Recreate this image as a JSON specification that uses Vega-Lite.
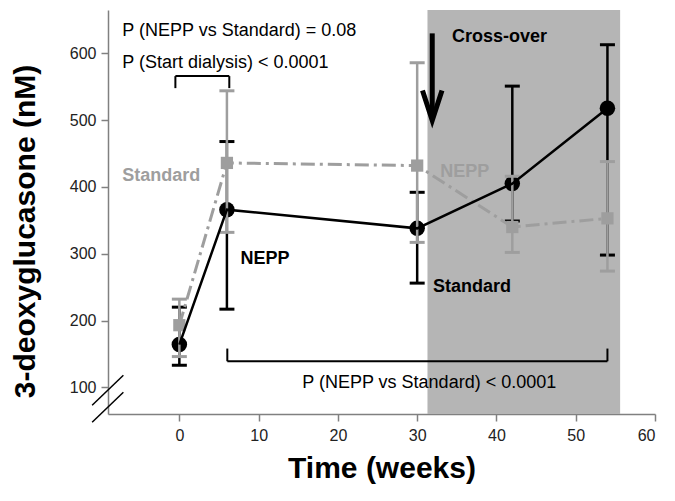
{
  "$schema": "https://vega.github.io/schema/vega-lite/v6.json",
  "width": 547,
  "height": 404,
  "autosize": {"type": "none"},
  "padding": {"left": 108, "top": 10, "right": 20, "bottom": 87},
  "background": "white",
  "config": {
    "view": {"stroke": null},
    "font": "Liberation Sans",
    "axis": {"grid": false, "domainColor": "#808080", "domainWidth": 1.5, "tickColor": "#808080", "tickWidth": 1.5, "tickSize": 7,
      "labelFontSize": 16, "labelColor": "#222222", "labelFont": "Liberation Sans",
      "titleFontWeight": "bold", "titleColor": "#000000", "titleFont": "Liberation Sans"},
    "axisX": {"labelPadding": 6, "titleFontSize": 30, "titlePadding": 10},
    "axisY": {"labelPadding": 5, "titleFontSize": 30, "titlePadding": 29}
  },
  "datasets": {
    "series": [
      {"s": "NEPP", "x": 0, "y": 164, "lo": 133, "hi": 220},
      {"s": "NEPP", "x": 6, "y": 366, "lo": 217, "hi": 468},
      {"s": "NEPP", "x": 30, "y": 338, "lo": 256, "hi": 392},
      {"s": "NEPP", "x": 42, "y": 405, "lo": 349, "hi": 551},
      {"s": "NEPP", "x": 54, "y": 518, "lo": 298, "hi": 613},
      {"s": "Standard", "x": 0, "y": 193, "lo": 146, "hi": 232},
      {"s": "Standard", "x": 6, "y": 436, "lo": 332, "hi": 544},
      {"s": "Standard", "x": 30, "y": 432, "lo": 317, "hi": 586},
      {"s": "Standard", "x": 42, "y": 340, "lo": 302, "hi": 416},
      {"s": "Standard", "x": 54, "y": 353, "lo": 274, "hi": 438}
    ],
    "shade": [{"x": 31.3, "x2": 55.6, "y": 60, "y2": 665}],
    "brackets": [
      {"x": -0.5, "x2": 6.3, "y": 566, "y2": 566},
      {"x": -0.5, "x2": -0.5, "y": 548, "y2": 566},
      {"x": 6.3, "x2": 6.3, "y": 548, "y2": 566},
      {"x": 6.05, "x2": 54, "y": 139, "y2": 139},
      {"x": 6.05, "x2": 6.05, "y": 139, "y2": 158},
      {"x": 54, "x2": 54, "y": 139, "y2": 158}
    ],
    "breaks": [
      {"x": -11, "x2": -7.06, "y": 73, "y2": 118},
      {"x": -11, "x2": -7.06, "y": 47.6, "y2": 92.5}
    ],
    "arrow": [{"x": 31.9, "x2": 31.9, "y": 630, "y2": 505}],
    "arrowhead": [{"x": 31.9, "y": 522}],
    "txtRegular": [
      {"t": "P (NEPP vs Standard) = 0.08", "x": -7.2, "y": 634},
      {"t": "P (Start dialysis) < 0.0001", "x": -7.2, "y": 585},
      {"t": "P (NEPP vs Standard) < 0.0001", "x": 15.5, "y": 106}
    ],
    "txtBold": [
      {"t": "NEPP", "x": 7.7, "y": 292},
      {"t": "Standard", "x": 32.0, "y": 250},
      {"t": "Cross-over", "x": 34.4, "y": 624}
    ],
    "txtGray": [
      {"t": "Standard", "x": -7.2, "y": 416},
      {"t": "NEPP", "x": 32.9, "y": 423}
    ]
  },
  "layer": [
    {
      "data": {"name": "shade"},
      "mark": {"type": "rect", "color": "#b5b5b5"},
      "encoding": {
        "x": {"field": "x", "type": "quantitative", "scale": {"domain": [-9, 60], "nice": false, "zero": false}, "axis": {"title": "Time (weeks)", "values": [0, 10, 20, 30, 40, 50, 60]}},
        "x2": {"field": "x2"},
        "y": {"field": "y", "type": "quantitative", "scale": {"domain": [60, 665], "nice": false, "zero": false}, "axis": {"title": "3-deoxyglucasone (nM)", "values": [100, 200, 300, 400, 500, 600], "titleY": 221}},
        "y2": {"field": "y2"}
      }
    },
    {
      "data": {"name": "brackets"},
      "mark": {"type": "rule", "color": "#000000", "strokeWidth": 2},
      "encoding": {
        "x": {"field": "x", "type": "quantitative", "scale": {"domain": [-9, 60], "nice": false, "zero": false}, "axis": {"title": "Time (weeks)", "values": [0, 10, 20, 30, 40, 50, 60]}},
        "x2": {"field": "x2"},
        "y": {"field": "y", "type": "quantitative", "scale": {"domain": [60, 665], "nice": false, "zero": false}, "axis": {"title": "3-deoxyglucasone (nM)", "values": [100, 200, 300, 400, 500, 600], "titleY": 221}},
        "y2": {"field": "y2"}
      }
    },
    {
      "data": {"name": "series"},
      "transform": [{"filter": "datum.s === 'NEPP'"}],
      "mark": {"type": "rule", "strokeWidth": 2.5, "color": "#000000"},
      "encoding": {
        "x": {"field": "x", "type": "quantitative", "scale": {"domain": [-9, 60], "nice": false, "zero": false}, "axis": {"title": "Time (weeks)", "values": [0, 10, 20, 30, 40, 50, 60]}},
        "y": {"field": "lo", "type": "quantitative", "scale": {"domain": [60, 665], "nice": false, "zero": false}, "axis": {"title": "3-deoxyglucasone (nM)", "values": [100, 200, 300, 400, 500, 600], "titleY": 221}},
        "y2": {"field": "hi"}
      }
    },
    {
      "data": {"name": "series"},
      "transform": [{"filter": "datum.s === 'NEPP'"}, {"fold": ["lo", "hi"], "as": ["k", "v"]}],
      "mark": {"type": "tick", "orient": "horizontal", "size": 15, "thickness": 3, "opacity": 1, "color": "#000000"},
      "encoding": {
        "x": {"field": "x", "type": "quantitative", "scale": {"domain": [-9, 60], "nice": false, "zero": false}, "axis": {"title": "Time (weeks)", "values": [0, 10, 20, 30, 40, 50, 60]}},
        "y": {"field": "v", "type": "quantitative", "scale": {"domain": [60, 665], "nice": false, "zero": false}, "axis": {"title": "3-deoxyglucasone (nM)", "values": [100, 200, 300, 400, 500, 600], "titleY": 221}}
      }
    },
    {
      "data": {"name": "series"},
      "transform": [{"filter": "datum.s === 'NEPP'"}],
      "mark": {"type": "circle", "size": 240, "color": "#000000", "opacity": 1},
      "encoding": {
        "x": {"field": "x", "type": "quantitative", "scale": {"domain": [-9, 60], "nice": false, "zero": false}, "axis": {"title": "Time (weeks)", "values": [0, 10, 20, 30, 40, 50, 60]}},
        "y": {"field": "y", "type": "quantitative", "scale": {"domain": [60, 665], "nice": false, "zero": false}, "axis": {"title": "3-deoxyglucasone (nM)", "values": [100, 200, 300, 400, 500, 600], "titleY": 221}}
      }
    },
    {
      "data": {"name": "series"},
      "transform": [{"filter": "datum.s === 'Standard'"}],
      "mark": {"type": "rule", "strokeWidth": 2.5, "color": "#9e9e9e"},
      "encoding": {
        "x": {"field": "x", "type": "quantitative", "scale": {"domain": [-9, 60], "nice": false, "zero": false}, "axis": {"title": "Time (weeks)", "values": [0, 10, 20, 30, 40, 50, 60]}},
        "y": {"field": "lo", "type": "quantitative", "scale": {"domain": [60, 665], "nice": false, "zero": false}, "axis": {"title": "3-deoxyglucasone (nM)", "values": [100, 200, 300, 400, 500, 600], "titleY": 221}},
        "y2": {"field": "hi"}
      }
    },
    {
      "data": {"name": "series"},
      "transform": [{"filter": "datum.s === 'Standard'"}, {"fold": ["lo", "hi"], "as": ["k", "v"]}],
      "mark": {"type": "tick", "orient": "horizontal", "size": 15, "thickness": 3, "opacity": 1, "color": "#9e9e9e"},
      "encoding": {
        "x": {"field": "x", "type": "quantitative", "scale": {"domain": [-9, 60], "nice": false, "zero": false}, "axis": {"title": "Time (weeks)", "values": [0, 10, 20, 30, 40, 50, 60]}},
        "y": {"field": "v", "type": "quantitative", "scale": {"domain": [60, 665], "nice": false, "zero": false}, "axis": {"title": "3-deoxyglucasone (nM)", "values": [100, 200, 300, 400, 500, 600], "titleY": 221}}
      }
    },
    {
      "data": {"name": "series"},
      "transform": [{"filter": "datum.s === 'Standard'"}],
      "mark": {"type": "line", "color": "#9e9e9e", "strokeWidth": 3, "strokeDash": [14, 5, 3, 5]},
      "encoding": {
        "x": {"field": "x", "type": "quantitative", "scale": {"domain": [-9, 60], "nice": false, "zero": false}, "axis": {"title": "Time (weeks)", "values": [0, 10, 20, 30, 40, 50, 60]}},
        "y": {"field": "y", "type": "quantitative", "scale": {"domain": [60, 665], "nice": false, "zero": false}, "axis": {"title": "3-deoxyglucasone (nM)", "values": [100, 200, 300, 400, 500, 600], "titleY": 221}},
        "order": {"field": "x"}
      }
    },
    {
      "data": {"name": "series"},
      "transform": [{"filter": "datum.s === 'Standard'"}],
      "mark": {"type": "point", "shape": "square", "filled": true, "size": 150, "color": "#9e9e9e", "opacity": 1},
      "encoding": {
        "x": {"field": "x", "type": "quantitative", "scale": {"domain": [-9, 60], "nice": false, "zero": false}, "axis": {"title": "Time (weeks)", "values": [0, 10, 20, 30, 40, 50, 60]}},
        "y": {"field": "y", "type": "quantitative", "scale": {"domain": [60, 665], "nice": false, "zero": false}, "axis": {"title": "3-deoxyglucasone (nM)", "values": [100, 200, 300, 400, 500, 600], "titleY": 221}}
      }
    },
    {
      "data": {"name": "series"},
      "transform": [{"filter": "datum.s === 'NEPP'"}],
      "mark": {"type": "line", "color": "#000000", "strokeWidth": 2.5},
      "encoding": {
        "x": {"field": "x", "type": "quantitative", "scale": {"domain": [-9, 60], "nice": false, "zero": false}, "axis": {"title": "Time (weeks)", "values": [0, 10, 20, 30, 40, 50, 60]}},
        "y": {"field": "y", "type": "quantitative", "scale": {"domain": [60, 665], "nice": false, "zero": false}, "axis": {"title": "3-deoxyglucasone (nM)", "values": [100, 200, 300, 400, 500, 600], "titleY": 221}},
        "order": {"field": "x"}
      }
    },
    {
      "data": {"name": "txtRegular"},
      "mark": {"type": "text", "align": "left", "baseline": "middle", "fontSize": 18, "color": "#000000", "font": "Liberation Sans"},
      "encoding": {
        "x": {"field": "x", "type": "quantitative", "scale": {"domain": [-9, 60], "nice": false, "zero": false}, "axis": {"title": "Time (weeks)", "values": [0, 10, 20, 30, 40, 50, 60]}},
        "y": {"field": "y", "type": "quantitative", "scale": {"domain": [60, 665], "nice": false, "zero": false}, "axis": {"title": "3-deoxyglucasone (nM)", "values": [100, 200, 300, 400, 500, 600], "titleY": 221}},
        "text": {"field": "t"}
      }
    },
    {
      "data": {"name": "txtBold"},
      "mark": {"type": "text", "align": "left", "baseline": "middle", "fontSize": 18, "fontWeight": "bold", "color": "#000000", "font": "Liberation Sans"},
      "encoding": {
        "x": {"field": "x", "type": "quantitative", "scale": {"domain": [-9, 60], "nice": false, "zero": false}, "axis": {"title": "Time (weeks)", "values": [0, 10, 20, 30, 40, 50, 60]}},
        "y": {"field": "y", "type": "quantitative", "scale": {"domain": [60, 665], "nice": false, "zero": false}, "axis": {"title": "3-deoxyglucasone (nM)", "values": [100, 200, 300, 400, 500, 600], "titleY": 221}},
        "text": {"field": "t"}
      }
    },
    {
      "data": {"name": "txtGray"},
      "mark": {"type": "text", "align": "left", "baseline": "middle", "fontSize": 18, "fontWeight": "bold", "color": "#9e9e9e", "font": "Liberation Sans"},
      "encoding": {
        "x": {"field": "x", "type": "quantitative", "scale": {"domain": [-9, 60], "nice": false, "zero": false}, "axis": {"title": "Time (weeks)", "values": [0, 10, 20, 30, 40, 50, 60]}},
        "y": {"field": "y", "type": "quantitative", "scale": {"domain": [60, 665], "nice": false, "zero": false}, "axis": {"title": "3-deoxyglucasone (nM)", "values": [100, 200, 300, 400, 500, 600], "titleY": 221}},
        "text": {"field": "t"}
      }
    },
    {
      "data": {"name": "arrow"},
      "mark": {"type": "rule", "color": "#000000", "strokeWidth": 5},
      "encoding": {
        "x": {"field": "x", "type": "quantitative", "scale": {"domain": [-9, 60], "nice": false, "zero": false}, "axis": {"title": "Time (weeks)", "values": [0, 10, 20, 30, 40, 50, 60]}},
        "x2": {"field": "x2"},
        "y": {"field": "y", "type": "quantitative", "scale": {"domain": [60, 665], "nice": false, "zero": false}, "axis": {"title": "3-deoxyglucasone (nM)", "values": [100, 200, 300, 400, 500, 600], "titleY": 221}},
        "y2": {"field": "y2"}
      }
    },
    {
      "data": {"name": "arrowhead"},
      "mark": {"type": "point", "shape": "M-0.65,-1L0,1L0.65,-1", "filled": false, "size": 900, "stroke": "#000000", "strokeWidth": 5, "opacity": 1, "strokeJoin": "miter"},
      "encoding": {
        "x": {"field": "x", "type": "quantitative", "scale": {"domain": [-9, 60], "nice": false, "zero": false}, "axis": {"title": "Time (weeks)", "values": [0, 10, 20, 30, 40, 50, 60]}},
        "y": {"field": "y", "type": "quantitative", "scale": {"domain": [60, 665], "nice": false, "zero": false}, "axis": {"title": "3-deoxyglucasone (nM)", "values": [100, 200, 300, 400, 500, 600], "titleY": 221}}
      }
    },
    {
      "data": {"name": "breaks"},
      "mark": {"type": "rule", "color": "#000000", "strokeWidth": 1.5},
      "encoding": {
        "x": {"field": "x", "type": "quantitative", "scale": {"domain": [-9, 60], "nice": false, "zero": false}, "axis": {"title": "Time (weeks)", "values": [0, 10, 20, 30, 40, 50, 60]}},
        "x2": {"field": "x2"},
        "y": {"field": "y", "type": "quantitative", "scale": {"domain": [60, 665], "nice": false, "zero": false}, "axis": {"title": "3-deoxyglucasone (nM)", "values": [100, 200, 300, 400, 500, 600], "titleY": 221}},
        "y2": {"field": "y2"}
      }
    }
  ]
}
